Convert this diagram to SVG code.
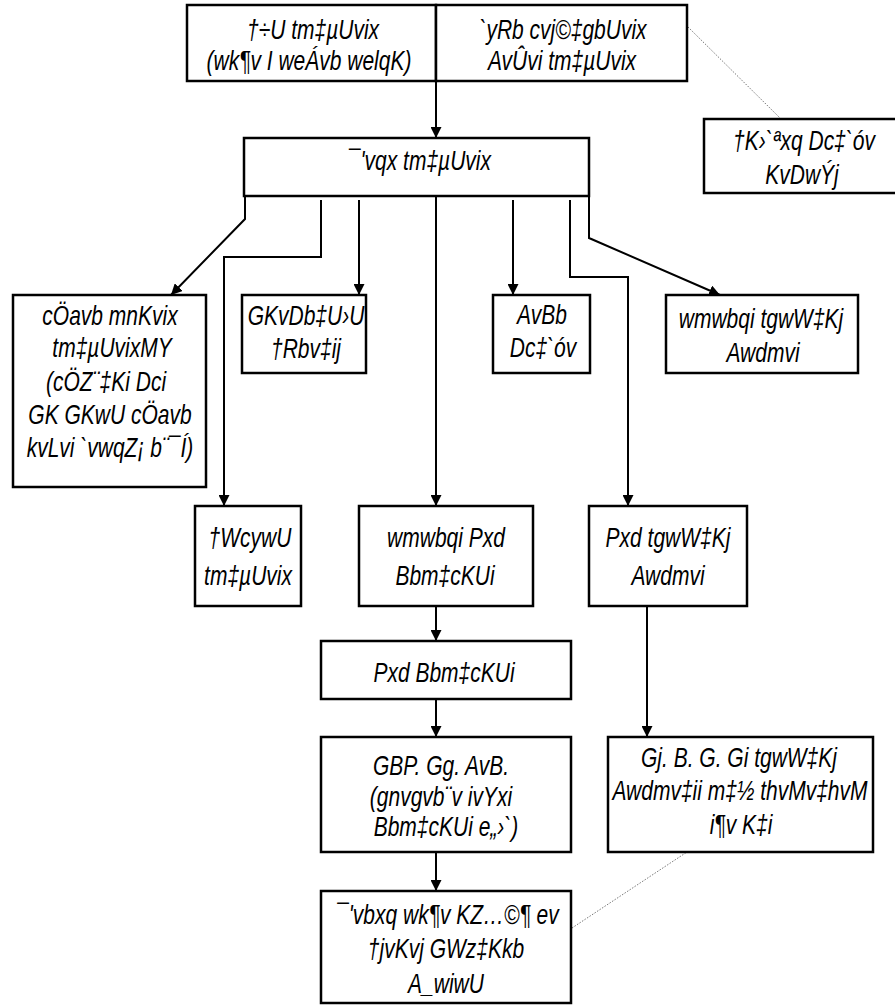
<svg xmlns="http://www.w3.org/2000/svg" width="895" height="1005" viewBox="0 0 895 1005">
<style>
.box{fill:#fff;stroke:#000;stroke-width:2.5}
.t{font-family:"Liberation Sans Narrow","Arial Narrow","Liberation Sans",sans-serif;font-style:italic;font-size:28px;fill:#000;text-anchor:middle}
.c{fill:none;stroke:#000;stroke-width:2}
.d{fill:none;stroke:#777;stroke-width:1;stroke-dasharray:1.5 1.5}
</style>
<defs>
<marker id="ah" viewBox="0 0 10 10" refX="10" refY="5" markerWidth="11" markerHeight="11" markerUnits="userSpaceOnUse" orient="auto"><path d="M0,0 L10,5 L0,10 z" fill="#000"/></marker>
</defs>
<rect width="895" height="1005" fill="#fff"/>
<g id="connectors">
<path class="d" d="M688,27 L780,118"/>
<path class="d" d="M572,928 L687,852"/>
<path class="c" marker-end="url(#ah)" d="M436,81 L436,138"/>
<path class="c" marker-end="url(#ah)" d="M245,196 L245,219 L171,295"/>
<path class="c" marker-end="url(#ah)" d="M321,200 L321,257 L224,257 L224,506"/>
<path class="c" marker-end="url(#ah)" d="M359,200 L359,295"/>
<path class="c" marker-end="url(#ah)" d="M436,196 L436,506"/>
<path class="c" marker-end="url(#ah)" d="M513,200 L513,295"/>
<path class="c" marker-end="url(#ah)" d="M570,200 L570,277 L628,277 L628,506"/>
<path class="c" marker-end="url(#ah)" d="M589,196 L589,238 L720,295"/>
<path class="c" marker-end="url(#ah)" d="M436,606 L436,641"/>
<path class="c" marker-end="url(#ah)" d="M436,699 L436,737"/>
<path class="c" marker-end="url(#ah)" d="M647,606 L647,737"/>
<path class="c" marker-end="url(#ah)" d="M436,852 L436,891"/>
</g>
<g id="n1"><rect class="box" x="187" y="5" width="249" height="76"/>
<text class="t" transform="translate(313,39) scale(0.75,1)">†÷U tm‡µUvix</text>
<text class="t" transform="translate(309,70) scale(0.75,1)">(wk¶v I weÁvb welqK)</text></g>
<g id="n2"><rect class="box" x="436" y="5" width="251" height="76"/>
<text class="t" transform="translate(563,39) scale(0.75,1)">`yRb cvj©‡gbUvix</text>
<text class="t" transform="translate(562,70) scale(0.75,1)">AvÛvi tm‡µUvix</text></g>
<g id="n3"><rect class="box" x="704" y="119" width="200" height="74"/>
<text class="t" transform="translate(804,150) scale(0.75,1)">†K›`ªxq Dc‡`óv</text>
<text class="t" transform="translate(802,184) scale(0.75,1)">KvDwÝj</text></g>
<g id="n4"><rect class="box" x="244" y="138" width="345" height="58"/>
<text class="t" transform="translate(420,170) scale(0.75,1)">¯'vqx tm‡µUvix</text></g>
<g id="n5"><rect class="box" x="13" y="295" width="193" height="192"/>
<text class="t" transform="translate(110,325) scale(0.75,1)">cÖavb mnKvix</text>
<text class="t" transform="translate(112,357) scale(0.75,1)">tm‡µUvixMY</text>
<text class="t" transform="translate(106,391) scale(0.75,1)">(cÖZ¨‡Ki Dci</text>
<text class="t" transform="translate(110,424) scale(0.75,1)">GK GKwU cÖavb</text>
<text class="t" transform="translate(110,457) scale(0.75,1)">kvLvi `vwqZ¡ b¨¯Í)</text></g>
<g id="n6"><rect class="box" x="242" y="295" width="124" height="78"/>
<text class="t" transform="translate(306,325) scale(0.75,1)">GKvDb‡U›U</text>
<text class="t" transform="translate(306,358) scale(0.75,1)">†Rbv‡ij</text></g>
<g id="n7"><rect class="box" x="493" y="295" width="97" height="78"/>
<text class="t" transform="translate(542,324) scale(0.75,1)">AvBb</text>
<text class="t" transform="translate(543,357) scale(0.75,1)">Dc‡`óv</text></g>
<g id="n8"><rect class="box" x="666" y="295" width="192" height="78"/>
<text class="t" transform="translate(761,328) scale(0.75,1)">wmwbqi tgwW‡Kj</text>
<text class="t" transform="translate(763,362) scale(0.75,1)">Awdmvi</text></g>
<g id="n9"><rect class="box" x="195" y="506" width="106" height="100"/>
<text class="t" transform="translate(250,547) scale(0.75,1)">†WcywU</text>
<text class="t" transform="translate(248,585) scale(0.75,1)">tm‡µUvix</text></g>
<g id="n10"><rect class="box" x="359" y="506" width="174" height="100"/>
<text class="t" transform="translate(446,547) scale(0.75,1)">wmwbqi Pxd</text>
<text class="t" transform="translate(445,585) scale(0.75,1)">Bbm‡cKUi</text></g>
<g id="n11"><rect class="box" x="589" y="506" width="158" height="100"/>
<text class="t" transform="translate(668,547) scale(0.75,1)">Pxd tgwW‡Kj</text>
<text class="t" transform="translate(668,585) scale(0.75,1)">Awdmvi</text></g>
<g id="n12"><rect class="box" x="321" y="641" width="250" height="58"/>
<text class="t" transform="translate(444,682) scale(0.75,1)">Pxd Bbm‡cKUi</text></g>
<g id="n13"><rect class="box" x="321" y="737" width="250" height="115"/>
<text class="t" transform="translate(441,775) scale(0.75,1)">GBP. Gg. AvB.</text>
<text class="t" transform="translate(441,806) scale(0.75,1)">(gnvgvb¨v ivYxi</text>
<text class="t" transform="translate(446,836) scale(0.75,1)">Bbm‡cKUi e„›`)</text></g>
<g id="n14"><rect class="box" x="608" y="737" width="265" height="115"/>
<text class="t" transform="translate(739,767) scale(0.75,1)">Gj. B. G. Gi tgwW‡Kj</text>
<text class="t" transform="translate(740,800) scale(0.75,1)">Awdmv‡ii m‡½ thvMv‡hvM</text>
<text class="t" transform="translate(741,834) scale(0.75,1)">i¶v K‡i</text></g>
<g id="n15"><rect class="box" x="321" y="891" width="250" height="112"/>
<text class="t" transform="translate(448,924) scale(0.75,1)">¯'vbxq wk¶v KZ…©¶ ev</text>
<text class="t" transform="translate(446,958) scale(0.75,1)">†jvKvj GWz‡Kkb</text>
<text class="t" transform="translate(446,993) scale(0.75,1)">A_wiwU</text></g>
</svg>
